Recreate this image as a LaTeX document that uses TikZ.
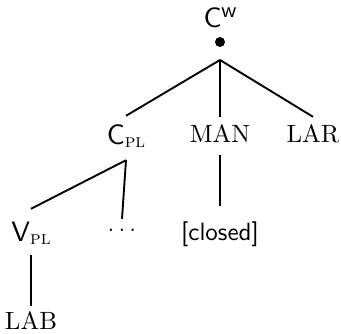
\documentclass[tikz,border=0pt]{standalone}
\usepackage{fontspec}
\setmainfont{lmroman10-regular}[Extension=.otf, SmallCapsFont=lmromancaps10-regular]
\setsansfont{lmsans10-regular}[Extension=.otf]
\begin{document}
\begin{tikzpicture}[x=1pt,y=-1pt,
  lbl/.style={anchor=base, inner xsep=0pt, inner ysep=10pt},
  serif/.style={lbl, font=\fontsize{25}{27}\selectfont},
  sans/.style={lbl, font=\fontsize{25}{27}\selectfont\sffamily},
  cat/.style={lbl, font=\fontsize{28}{30}\selectfont\sffamily},
  branch/.style={line width=1.9pt}]
\newcommand\subpl{\raisebox{-3pt}{\fontsize{19}{20}\selectfont\rmfamily\scshape pl}}
\useasboundingbox (0,0) rectangle (341,334);

% root label and its dot
\node[cat, inner ysep=0pt] (cw) at (220,28) {C\raisebox{10pt}{\fontsize{22}{22}\selectfont w}};
\node[circle, fill, inner sep=0pt, minimum size=10pt] (dot) at (220,42) {};
\coordinate (root) at (220,60);

% second level
\node[cat, text height=19pt, text depth=5pt] (cpl) at (126,145) {C\subpl};
\node[serif, text height=16pt, text depth=2pt] (man) at (220,143) {MAN};
\node[serif, text height=16pt, text depth=2pt] (lar) at (313,143) {LAR};

% third level
\node[cat, text height=23pt, text depth=3pt] (vpl) at (31,242) {V\subpl};
\node[serif, text height=3pt, text depth=0pt, font=\fontsize{30}{31}\selectfont] (dots) at (122,232) {$\ldots$};
\node[sans, text height=25pt, text depth=5pt] (closed) at (220,241) {[closed]};

% fourth level
\node[serif, text height=14pt, text depth=0pt] (lab) at (31,330) {LAB};

% branches
\draw[branch] (root) -- (cpl.north);
\draw[branch] (root) -- (man.north);
\draw[branch] (root) -- (lar.north);
\draw[branch] (cpl.south) -- (vpl.north);
\draw[branch] (cpl.south) -- (dots.north);
\draw[branch] (man.south) -- (closed.north);
\draw[branch] (vpl.south) -- (lab.north);
\end{tikzpicture}
\end{document}
